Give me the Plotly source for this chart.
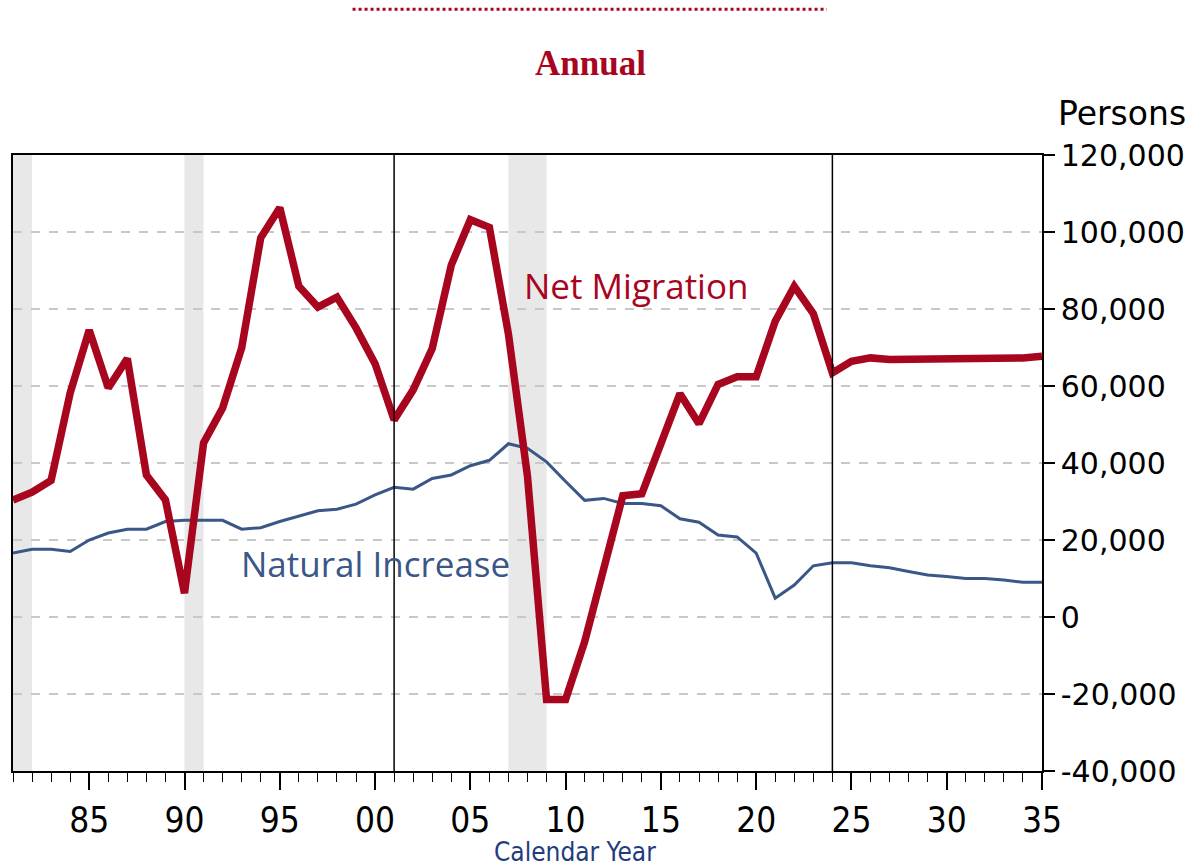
import plotly.graph_objects as go

years = list(range(1981, 2036))
net_migration = [
    30400, 32400, 35500, 58200, 74500, 59500, 67100, 36900, 30400, 6200,
    45200, 54300, 69900, 98500, 106300, 85900, 80500, 83100, 75100, 65800,
    51200, 59000, 69700, 91400, 103200, 101200, 73500, 36500, -21400, -21400,
    -6400, 12600, 31500, 32000, 45500, 58000, 50200, 60400, 62400, 62400,
    76800, 85900, 78800, 63400, 66400, 67300, 66900, 66900, 67300, 66900,
    66900, 66900, 67300, 67300, 67700,
]
natural_increase = [
    16600, 17600, 17600, 17000, 20000, 21800, 22800, 22800, 24800, 25100,
    25100, 25100, 22800, 23200, 24800, 26300, 27600, 28000, 29300, 31700,
    33700, 33200, 36000, 36900, 39300, 40700, 45000, 43800, 40300, 35200,
    30300, 30800, 29500, 29500, 28900, 25500, 24600, 21300, 20800, 16600,
    4900, 8300, 13300, 14100, 14100, 13300, 12800, 11800, 10900, 10500,
    10000, 10000, 9600, 9000, 9000,
]
recessions = [(1981, 1982), (1990, 1991), (2007, 2009)]
vlines = [2001, 2024]
x_tick_vals = [1985, 1990, 1995, 2000, 2005, 2010, 2015, 2020, 2025, 2030, 2035]
x_tick_text = ["85", "90", "95", "00", "05", "10", "15", "20", "25", "30", "35"]
y_tick_vals = [-40000, -20000, 0, 20000, 40000, 60000, 80000, 100000, 120000]
y_tick_text = ["-40,000", "-20,000", "0", "20,000", "40,000", "60,000", "80,000", "100,000", "120,000"]

RED = "#A8051F"
BLUE = "#3A5787"
NARROW = "Liberation Sans Narrow, DejaVu Sans Condensed, Arial Narrow, sans-serif"

fig = go.Figure()

fig.add_trace(go.Scatter(x=years, y=natural_increase, mode="lines",
                         line=dict(color=BLUE, width=3), name="Natural Increase",
                         showlegend=False))
fig.add_trace(go.Scatter(x=years, y=net_migration, mode="lines",
                         line=dict(color=RED, width=7.5), name="Net Migration",
                         showlegend=False))

shapes = []
for a, b in recessions:
    shapes.append(dict(type="rect", xref="x", yref="paper", x0=a, x1=b, y0=0, y1=1,
                       fillcolor="#E8E8E8", line=dict(width=0), layer="below"))
for v in vlines:
    shapes.append(dict(type="line", xref="x", yref="paper", x0=v, x1=v, y0=0, y1=1,
                       line=dict(color="black", width=1.5)))
# dotted line above the title
shapes.append(dict(type="line", xref="paper", yref="paper", x0=0.330, x1=0.791,
                   y0=1.2365, y1=1.2365, line=dict(color=RED, width=3, dash="dot")))

fig.update_layout(
    width=1199, height=866,
    margin=dict(l=13, r=157, t=155, b=95, autoexpand=False),
    paper_bgcolor="white", plot_bgcolor="white",
    shapes=shapes,
    showlegend=False,
    xaxis=dict(
        range=[1981, 2035],
        tickmode="array", tickvals=x_tick_vals, ticktext=x_tick_text,
        ticks="outside", ticklen=17, tickwidth=1.5, tickcolor="black",
        showline=True, linecolor="black", linewidth=1.5, mirror=True,
        showgrid=False, zeroline=False,
        tickfont=dict(family=NARROW, size=35, color="black"),
        minor=dict(tickmode="array", tickvals=years, ticks="outside", ticklen=9,
                   tickwidth=1.2, tickcolor="black", showgrid=False),
    ),
    yaxis=dict(
        range=[-40000, 120000], side="right",
        tickmode="array", tickvals=y_tick_vals, ticktext=y_tick_text,
        ticks="outside", ticklen=11, tickwidth=1.5, tickcolor="black",
        showline=True, linecolor="black", linewidth=1.5, mirror=True,
        showgrid=True, gridcolor="#C8C8C8", gridwidth=1.5, griddash="dash",
        zeroline=False,
        tickfont=dict(family="DejaVu Sans, Verdana, sans-serif", size=30, color="black"),
    ),
    annotations=[
        dict(text="<b>Annual</b>", xref="paper", yref="paper", x=0.561, y=1.149,
             showarrow=False, xanchor="center", yanchor="middle",
             font=dict(family="Liberation Serif, Times New Roman, serif", size=35, color=RED)),
        dict(text="Persons", xref="paper", yref="paper", x=1.0, xshift=14, y=1.0, yshift=42,
             showarrow=False, xanchor="left", yanchor="middle",
             font=dict(family="DejaVu Sans, Verdana, sans-serif", size=33, color="black")),
        dict(text="Calendar Year", xref="paper", yref="paper", x=0.546, y=-0.131,
             showarrow=False, xanchor="center", yanchor="middle",
             font=dict(family=NARROW, size=26, color="#1F3C7C")),
        dict(text="Net Migration", xref="x", yref="y", x=2007.7, y=86000,
             showarrow=False, xanchor="left", yanchor="middle",
             font=dict(family="Open Sans, sans-serif", size=35, color=RED)),
        dict(text="Natural Increase", xref="x", yref="y", x=1992.85, y=14000,
             showarrow=False, xanchor="left", yanchor="middle",
             font=dict(family="Open Sans, sans-serif", size=35, color=BLUE)),
    ],
)

fig.write_html("out.html", config={"displayModeBar": False},
               post_script="document.body.style.margin='0';")
